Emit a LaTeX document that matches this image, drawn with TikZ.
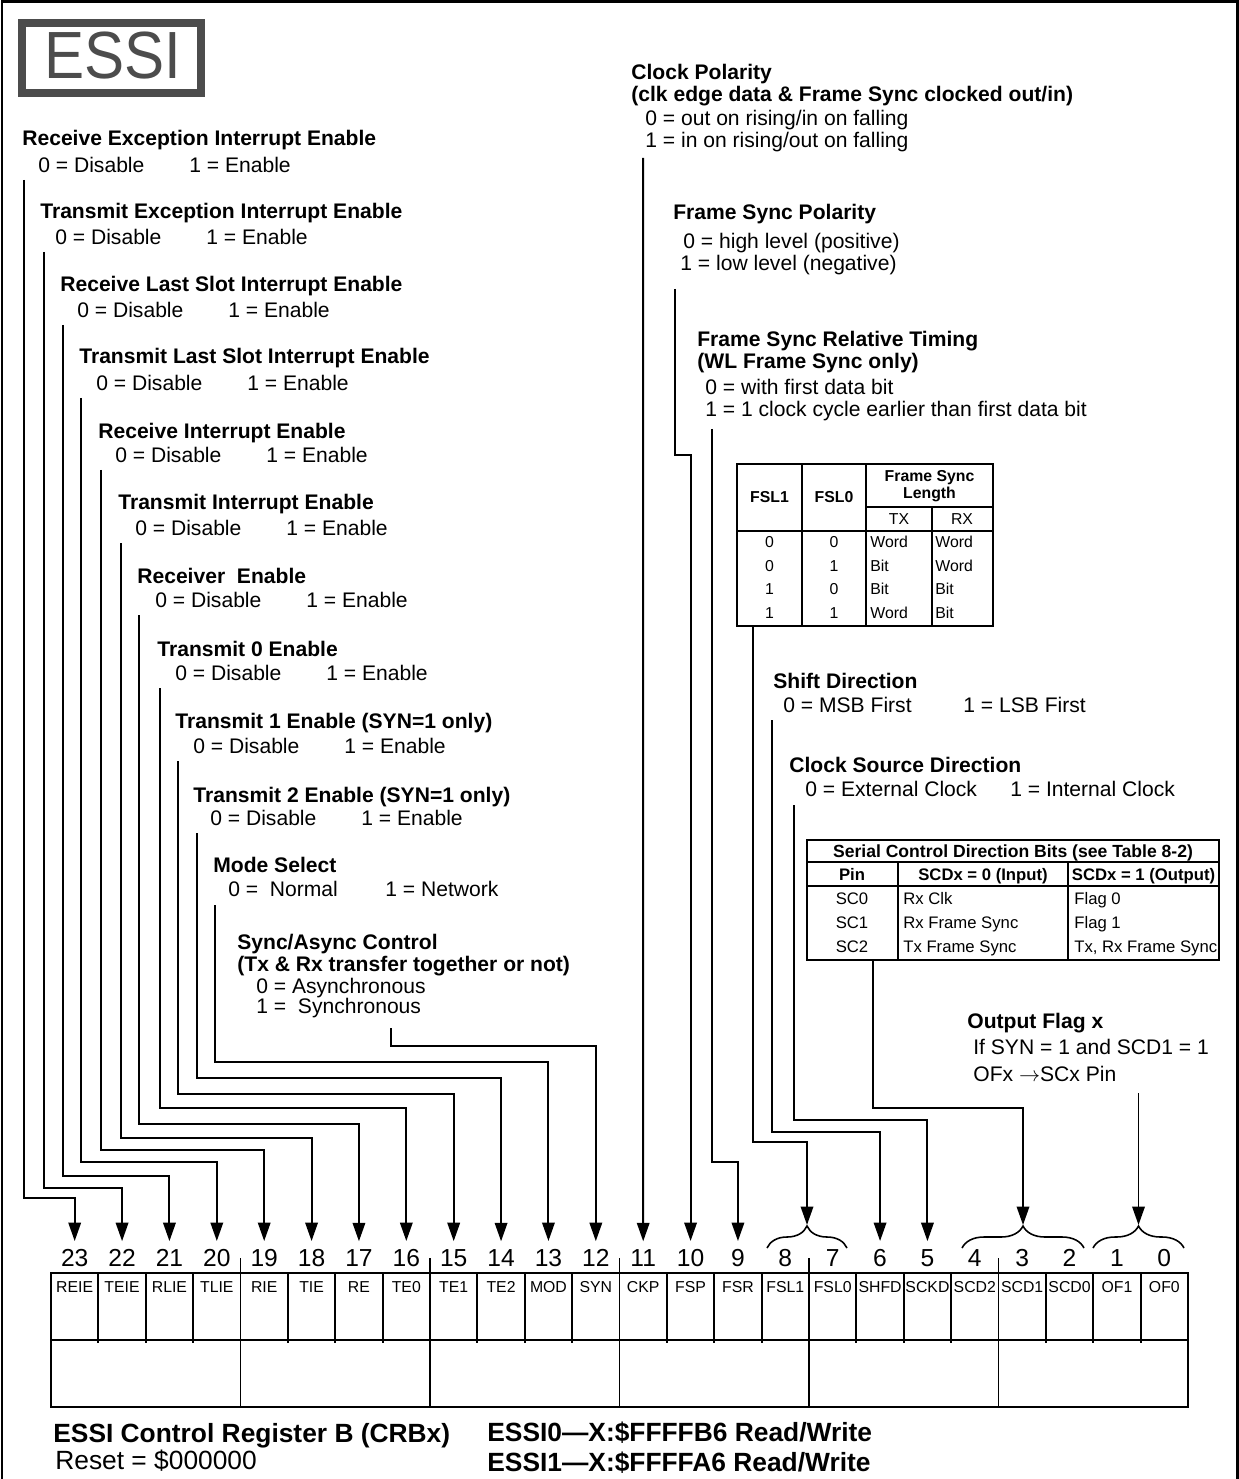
\documentclass[tikz,border=0pt]{standalone}
\usepackage{graphicx}
\usepackage{fontspec}
\setmainfont{Liberation Sans}
\usetikzlibrary{arrows.meta, decorations.pathreplacing}
\definecolor{essigray}{gray}{0.3}
\newcommand{\twoval}[3]{\makebox[#1][l]{#2}#3}

\begin{document}
\begin{tikzpicture}[x=0.02cm, y=-0.02cm,
    fname/.style={anchor=base west, inner sep=0pt, font=\bfseries\fontsize{12}{14}\selectfont},
    fval/.style={anchor=base west, inner sep=0pt, font=\fontsize{12}{14}\selectfont},
    conn/.style={line width=1.1pt},
    arr/.style={conn, -{Triangle[length=0.37cm, width=0.25cm]}},
    bitnum/.style={inner xsep=0pt, inner ysep=4.5pt, font=\fontsize{14}{14}\selectfont},
    cell/.style={inner sep=0pt, font=\fontsize{9}{9}\selectfont},
    tab/.style={line width=0.9pt},
    tabtxt/.style={anchor=base, inner sep=0pt, font=\fontsize{9}{9}\selectfont},
    tabhead/.style={anchor=base, inner sep=0pt, font=\bfseries\fontsize{9}{9}\selectfont},
    brc/.style={line width=0.9pt, decorate, decoration={brace, amplitude=0.44cm}},
    big/.style={anchor=base west, inner sep=0pt, font=\fontsize{15}{15}\selectfont}
]
    \useasboundingbox (0,0) rectangle (1239,1479);
    \draw[line width=1.7pt] (2,1479) -- (2,2) -- (1237,2) -- (1237,1479);

    % title box
    \draw[essigray, line width=0.16cm] (22,23) rectangle (201,93);
    \node[text=essigray, inner sep=0pt, font=\fontsize{38}{38}\selectfont] (essi) at (113,56) {\scalebox{0.9}[1]{ESSI}};

    % left column of fields
    \node[fname] (reie) at (22,145.5) {Receive Exception Interrupt Enable};
    \node[fval] (reiev) at (38,172.5) {\twoval{3.02cm}{0 = Disable}{1 = Enable}};
    \node[fname] (teie) at (40,218.5) {Transmit Exception Interrupt Enable};
    \node[fval] (teiev) at (55,244.5) {\twoval{3.02cm}{0 = Disable}{1 = Enable}};
    \node[fname] (rlie) at (60,291.5) {Receive Last Slot Interrupt Enable};
    \node[fval] (rliev) at (77,317.5) {\twoval{3.02cm}{0 = Disable}{1 = Enable}};
    \node[fname] (tlie) at (79,363.5) {Transmit Last Slot Interrupt Enable};
    \node[fval] (tliev) at (96,390.5) {\twoval{3.02cm}{0 = Disable}{1 = Enable}};
    \node[fname] (rie) at (98,438.5) {Receive Interrupt Enable};
    \node[fval] (riev) at (115,462.5) {\twoval{3.02cm}{0 = Disable}{1 = Enable}};
    \node[fname] (tie) at (118,509.5) {Transmit Interrupt Enable};
    \node[fval] (tiev) at (135,535.5) {\twoval{3.02cm}{0 = Disable}{1 = Enable}};
    \node[fname] (re) at (137,583.5) {Receiver\ \ Enable};
    \node[fval] (rev) at (155,607.5) {\twoval{3.02cm}{0 = Disable}{1 = Enable}};
    \node[fname] (tez) at (157,656.5) {Transmit 0 Enable};
    \node[fval] (tezv) at (175,680.5) {\twoval{3.02cm}{0 = Disable}{1 = Enable}};
    \node[fname] (teo) at (175,728.5) {Transmit 1 Enable (SYN=1 only)};
    \node[fval] (teov) at (193,753.5) {\twoval{3.02cm}{0 = Disable}{1 = Enable}};
    \node[fname] (tet) at (193,802.5) {Transmit 2 Enable (SYN=1 only)};
    \node[fval] (tetv) at (210,825.5) {\twoval{3.02cm}{0 = Disable}{1 = Enable}};
    \node[fname] (mod) at (213,872.5) {Mode Select};
    \node[fval] (modv) at (228,896.5) {\twoval{3.14cm}{0 =\ \ Normal}{1 = Network}};
    \node[fname] (syn) at (237,949.5) {Sync/Async Control};
    \node[fname] (syn2) at (237,971.5) {(Tx \& Rx transfer together or not)};
    \node[fval] (syn0) at (256,993.5) {0 = Asynchronous};
    \node[fval] (syn1) at (256,1013.5) {1 =\ \ Synchronous};

    % right column of fields
    \node[fname] (ckp) at (631,79.5) {Clock Polarity};
    \node[fname] (ckp2) at (631,102) {(clk edge data \& Frame Sync clocked out/in)};
    \node[fval] (ckp0) at (645,126) {0 = out on rising/in on falling};
    \node[fval] (ckp1) at (645,148) {1 = in on rising/out on falling};
    \node[fname] (fsp) at (673,220) {Frame Sync Polarity};
    \node[fval] (fsp0) at (683,249) {0 = high level (positive)};
    \node[fval] (fsp1) at (680,271) {1 = low level (negative)};
    \node[fname] (fsr) at (697,347) {Frame Sync Relative Timing};
    \node[fname] (fsr2) at (697,369) {(WL Frame Sync only)};
    \node[fval] (fsr0) at (705,395) {0 = with first data bit};
    \node[fval] (fsr1) at (705,417) {1 = 1 clock cycle earlier than first data bit};
    \node[fname] (shfd) at (773,688) {Shift Direction};
    \node[fval] (shfdv) at (783,712) {\twoval{3.6cm}{0 = MSB First}{1 = LSB First}};
    \node[fname] (sckd) at (789,772) {Clock Source Direction};
    \node[fval] (sckdv) at (805,796) {\twoval{4.1cm}{0 = External Clock}{1 = Internal Clock}};
    \node[fname] (of) at (967,1028) {Output Flag x};
    \node[fval] (of1) at (973,1054) {If SYN = 1 and SCD1 = 1};
    \node[fval] (of2) at (973,1081) {OFx $\rightarrow$SCx Pin};

    % frame sync length table
    \draw[tab] (737,464) rectangle (993,626);
    \draw[tab] (802,464) -- (802,626) (866,464) -- (866,626) (932,507) -- (932,626);
    \draw[tab] (866,507) -- (993,507) (737,531) -- (993,531);
    \node[tabhead] (fslh1) at (769.5,502.5) {FSL1};
    \node[tabhead] (fslh0) at (834,502.5) {FSL0};
    \node[tabhead] (fslh) at (929.5,481.5) {Frame Sync};
    \node[tabhead] (fslh2) at (929.5,498.5) {Length};
    \node[tabtxt] (txh) at (899,524.5) {TX};
    \node[tabtxt] (rxh) at (962,524.5) {RX};
    \foreach \fa/\fb/\tx/\rx [count=\k from 0] in {0/0/Word/Word, 0/1/Bit/Word, 1/0/Bit/Bit, 1/1/Word/Bit} {
        \node[tabtxt] (fa\k) at (769.5,547.5+\k*23.7) {\fa};
        \node[tabtxt] (fb\k) at (834,547.5+\k*23.7) {\fb};
        \node[tabtxt, anchor=base west] (tx\k) at (870,547.5+\k*23.7) {\tx};
        \node[tabtxt, anchor=base west] (rx\k) at (935,547.5+\k*23.7) {\rx};
    }

    % serial control direction table
    \draw[tab] (807,840) rectangle (1219,960);
    \draw[tab] (807,862) -- (1219,862) (807,886) -- (1219,886);
    \draw[tab] (898,862) -- (898,960) (1068,862) -- (1068,960);
    \node[tabhead, font=\bfseries\fontsize{10}{10}\selectfont] (scdh) at (1013,857) {Serial Control Direction Bits (see Table 8-2)};
    \node[tabhead, font=\bfseries\fontsize{9.5}{10}\selectfont] (pinh) at (852,880) {Pin};
    \node[tabhead, font=\bfseries\fontsize{9.5}{10}\selectfont] (inh) at (983,880) {SCDx = 0 (Input)};
    \node[tabhead, font=\bfseries\fontsize{9.5}{10}\selectfont] (outh) at (1143.5,880) {SCDx = 1 (Output)};
    \foreach \pn/\ina/\outa [count=\k from 0] in {SC0/Rx Clk/Flag 0, SC1/Rx Frame Sync/Flag 1, SC2/Tx Frame Sync/{Tx, Rx Frame Sync}} {
        \node[tabtxt, font=\fontsize{9.5}{10}\selectfont] (pin\k) at (852,904+\k*24) {\pn};
        \node[tabtxt, anchor=base west, font=\fontsize{9.5}{10}\selectfont] (in\k) at (903,904+\k*24) {\ina};
        \node[tabtxt, anchor=base west, font=\fontsize{9.5}{10}\selectfont] (out\k) at (1074,904+\k*24) {\outa};
    }

    % register
    \draw[conn] (51,1273) rectangle (1188,1407);
    \draw[conn] (51,1340) -- (1188,1340);
    \foreach \i in {1,...,23}
        \draw[conn] (51+\i*47.375,1273) -- (51+\i*47.375,1343);
    \foreach \i in {4,8,...,20}
        \draw[conn] (51+\i*47.375,1258) -- (51+\i*47.375,1407);
    \foreach \nm [count=\i from 0] in {REIE,TEIE,RLIE,TLIE,RIE,TIE,RE,TE0,TE1,TE2,MOD,SYN,CKP,FSP,FSR,FSL1,FSL0,SHFD,SCKD,SCD2,SCD1,SCD0,OF1,OF0} {
        \pgfmathtruncatemacro{\bit}{23-\i}
        \node[cell] (f\bit) at (74.69+\i*47.375,1287) {\nm};
        \node[bitnum] (n\bit) at (74.69+\i*47.375,1258) {\bit};
    }

    % braces over grouped bits
    \draw[brc] (767,1248) -- (847,1248);
    \draw[brc] (962,1248) -- (1084,1248);
    \draw[brc] (1093,1248) -- (1184,1248);
    \coordinate (b87) at (807,1225);
    \coordinate (b42) at (1023,1225);
    \coordinate (b10) at (1138.5,1225);

    % connectors
    \foreach \bit/\sx/\sy/\ty in {23/24/180/1198, 22/44/252/1188, 21/63/325/1176, 20/81/398/1162,
        19/101/470/1150, 18/121/543/1138, 17/139/615/1124, 16/160/688/1108, 15/178/761/1094,
        14/197/833/1078, 13/215/905/1062, 12/391/1028/1046, 10/675/289/455, 9/712/429/1162,
        6/772/720/1132, 5/794/805/1120} {
        \coordinate (s\bit) at (\sx,\sy);
        \draw[arr] (s\bit) |- (n\bit |- 0,\ty) -- (n\bit);
    }
    \coordinate (s11) at (643.2,158);
    \draw[arr] (s11) -- (n11);
    \coordinate (fsl) at (753,626);
    \draw[arr] (fsl) |- (b87 |- 0,1142) -- (b87);
    \coordinate (scd) at (873,960);
    \draw[arr] (scd) |- (b42 |- 0,1108) -- (b42);
    \coordinate (sof) at (1138.5,1093);
    \draw[arr] (sof) -- (b10);

    % register name and addresses
    \node[big, font=\bfseries\fontsize{15}{15}\selectfont] (crb) at (53,1442.5) {ESSI Control Register B (CRBx)};
    \node[big] (rst) at (55,1469) {Reset = \$000000};
    \node[big, font=\bfseries\fontsize{15}{15}\selectfont] (adr0) at (487,1441.5) {ESSI0—X:\$FFFFB6 Read/Write};
    \node[big, font=\bfseries\fontsize{15}{15}\selectfont] (adr1) at (487,1471.5) {ESSI1—X:\$FFFFA6 Read/Write};
\end{tikzpicture}
\end{document}
